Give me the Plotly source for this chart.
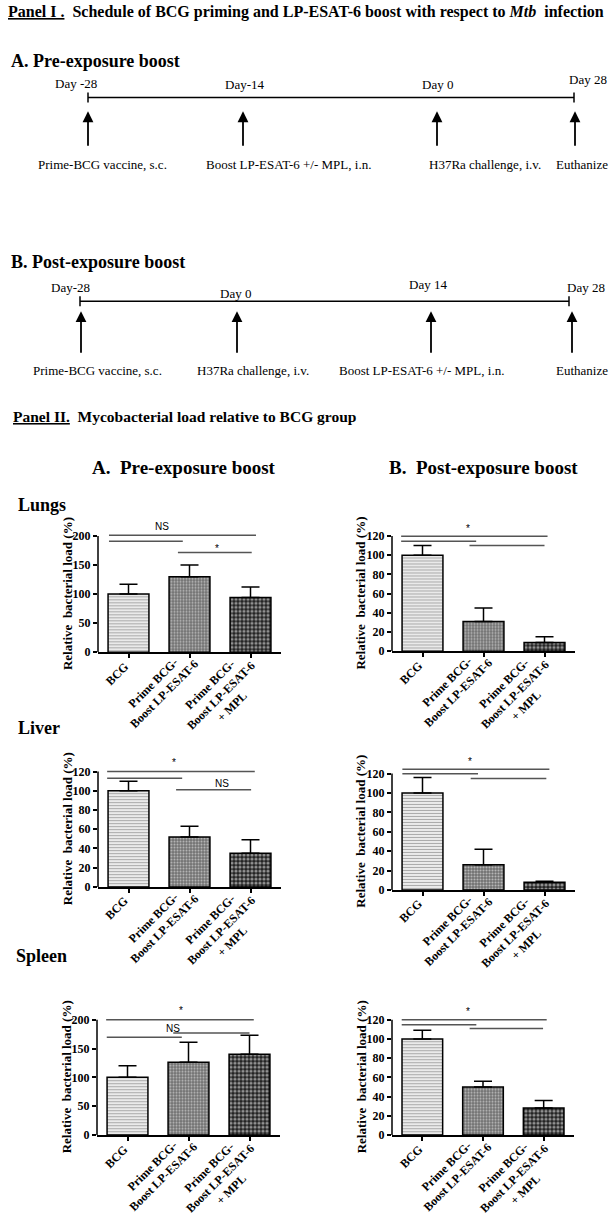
import plotly.graph_objects as go

W, H = 610, 1231
SERIF = "Liberation Serif, Times New Roman, serif"
SANS = "Liberation Sans, Arial, sans-serif"

# ---------------- data ----------------
groups = ["BCG", "Prime BCG-<br>Boost LP-ESAT-6", "Prime BCG-<br>Boost LP-ESAT-6<br>+ MPL"]
lungs_pre = [100, 130, 94]
lungs_pre_err = [17, 20, 18]
lungs_post = [100, 31, 9]
lungs_post_err = [10, 14, 6]
liver_pre = [100, 52, 35]
liver_pre_err = [10, 11, 14]
liver_post = [100, 26, 8]
liver_post_err = [16, 16, 1]
spleen_pre = [100, 126, 140]
spleen_pre_err = [20, 35, 33]
spleen_post = [100, 50, 28]
spleen_post_err = [9, 6, 8]
yticks_200 = [0, 50, 100, 150, 200]
yticks_120 = [0, 20, 40, 60, 80, 100, 120]

pre_days = ["Day -28", "Day-14", "Day 0", "Day 28"]
pre_events = ["Prime-BCG vaccine, s.c.", "Boost LP-ESAT-6 +/- MPL, i.n.",
              "H37Ra challenge, i.v.", "Euthanize"]
post_days = ["Day-28", "Day 0", "Day 14", "Day 28"]
post_events = ["Prime-BCG vaccine, s.c.", "H37Ra challenge, i.v.",
               "Boost LP-ESAT-6 +/- MPL, i.n.", "Euthanize"]

# significance brackets (category from, category to, level) and labels
lungs_pre_sig = [(-0.32, 2.09, 201), (-0.32, 0.89, 191), (0.81, 2.02, 171.5)]
lungs_pre_lab = [("NS", 0.55, 217), ("*", 1.45, 178)]
lungs_post_sig = [(-0.35, 2.05, 119.7), (-0.35, 0.88, 114.5), (0.77, 2.0, 110)]
lungs_post_lab = [("*", 0.75, 128)]
liver_pre_sig = [(-0.35, 2.07, 120), (-0.35, 0.88, 113), (0.78, 2.01, 101)]
liver_pre_lab = [("*", 0.75, 129), ("NS", 1.53, 108)]
liver_post_sig = [(-0.33, 2.08, 124.4), (-0.33, 0.91, 119.7), (0.79, 2.03, 115)]
liver_post_lab = [("*", 0.78, 132)]
spleen_pre_sig = [(-0.35, 2.07, 200), (0.75, 2.0, 177), (-0.34, 0.89, 169.6)]
spleen_pre_lab = [("NS", 0.75, 185), ("*", 0.88, 216)]
spleen_post_sig = [(-0.34, 2.05, 120), (-0.34, 0.89, 114.8), (0.78, 1.99, 110.7)]
spleen_post_lab = [("*", 0.76, 128.5)]

# ---------------- layout helpers ----------------
def px(x):
    return x / W

def py(y):
    return 1 - y / H

panels = [
    dict(v=lungs_pre, e=lungs_pre_err, t=yticks_200, box=(98, 281, 656, 539), sig=lungs_pre_sig, lab=lungs_pre_lab),
    dict(v=lungs_post, e=lungs_post_err, t=yticks_120, box=(392, 575, 655, 539), sig=lungs_post_sig, lab=lungs_post_lab),
    dict(v=liver_pre, e=liver_pre_err, t=yticks_120, box=(98, 281, 892, 776), sig=liver_pre_sig, lab=liver_pre_lab),
    dict(v=liver_post, e=liver_post_err, t=yticks_120, box=(392, 575, 895, 778), sig=liver_post_sig, lab=liver_post_lab),
    dict(v=spleen_pre, e=spleen_pre_err, t=yticks_200, box=(97, 280, 1141.5, 1025.5), sig=spleen_pre_sig, lab=spleen_pre_lab),
    dict(v=spleen_post, e=spleen_post_err, t=yticks_120, box=(392, 574, 1141.5, 1025.5), sig=spleen_post_sig, lab=spleen_post_lab),
]

# fill pattern of each group's bar
patterns = [
    dict(shape="-", fgcolor="#555555", bgcolor="white", size=3, solidity=0.5),
    dict(shape=".", fgcolor="white", bgcolor="#707070", size=3, solidity=0.4),
    dict(shape=".", fgcolor="white", bgcolor="#222222", size=4, solidity=0.5),
]

label_offsets = [(-11.5, 21.5), (-31, 37), (-29.5, 43.5)]

fig = go.Figure()
shapes = []
annotations = []
layout_axes = {}

for i, p in enumerate(panels, start=1):
    xa = "x" if i == 1 else f"x{i}"
    ya = "y" if i == 1 else f"y{i}"
    x0p, x1p, y0p, ytp = p["box"]
    top = p["t"][-1]
    R = top * 1.16
    ytop_dom = y0p - (y0p - ytp) * R / top
    for j in range(len(groups)):
        fig.add_trace(go.Bar(
            x=[j], y=[p["v"][j]], width=0.67, xaxis=xa, yaxis=ya,
            marker=dict(color="white", line=dict(color="black", width=1.5), pattern=patterns[j]),
            error_y=dict(type="data", symmetric=False, array=[p["e"][j]], arrayminus=[0],
                         color="black", thickness=1.5, width=9),
            showlegend=False, hoverinfo="skip",
        ))
    layout_axes["xaxis" if i == 1 else f"xaxis{i}"] = dict(
        domain=[px(x0p), px(x1p)], range=[-0.5, 2.5], anchor=ya,
        showline=True, linecolor="black", linewidth=1.5, ticks="outside",
        tickvals=[0, 1, 2], ticklen=4, tickwidth=1.5, tickcolor="black",
        showticklabels=False, showgrid=False, zeroline=False,
    )
    layout_axes["yaxis" if i == 1 else f"yaxis{i}"] = dict(
        domain=[py(y0p), py(ytop_dom)], range=[0, R], anchor=xa,
        showline=False, ticks="outside", tickvals=p["t"], ticklen=4, tickwidth=1.5,
        tickcolor="black", showgrid=False, zeroline=False,
        tickfont=dict(family=SERIF, size=12, color="black", weight="bold"),
    )
    # y axis line up to top tick
    shapes.append(dict(type="line", xref=f"{xa} domain", yref=ya, x0=0, x1=0, y0=0, y1=top,
                       line=dict(color="black", width=1.5)))
    # y title
    annotations.append(dict(text="Relative\u00a0 bacterial load (%)", xref=f"{xa} domain", yref=ya,
                            x=0, y=top / 2, xshift=-31, textangle=-90, showarrow=False,
                            xanchor="center", yanchor="middle",
                            font=dict(family=SERIF, size=13, color="black", weight="bold")))
    # category labels
    for j, g in enumerate(groups):
        dx, dy = label_offsets[j]
        annotations.append(dict(text=g, xref=xa, yref=ya, x=j, y=0, xshift=dx, yshift=-dy,
                                textangle=-45, showarrow=False, align="center",
                                xanchor="center", yanchor="middle",
                                font=dict(family=SERIF, size=12, color="black", weight="bold")))
    # brackets
    for (a, b, lvl) in p["sig"]:
        shapes.append(dict(type="line", xref=xa, yref=ya, x0=a, x1=b, y0=lvl, y1=lvl,
                           line=dict(color="#555555", width=1.5)))
    for (txt_, xx, yy) in p["lab"]:
        annotations.append(dict(text=txt_, xref=xa, yref=ya, x=xx, y=yy, showarrow=False,
                                xanchor="center", yanchor="middle",
                                font=dict(family=SANS, size=10, color="black")))

# ---------------- text headings ----------------
def txt(t, x, y, size, bold=False, anchor="left", family=SERIF):
    annotations.append(dict(text=t, xref="paper", yref="paper", x=px(x), y=py(y),
                            showarrow=False, xanchor=anchor, yanchor="middle",
                            font=dict(family=family, size=size, color="black",
                                      weight="bold" if bold else "normal")))

txt("<u>Panel I .</u>  Schedule of BCG priming and LP-ESAT-6 boost with respect to <i>Mtb</i>  infection",
    6, 12, 16, True)
txt("A. Pre-exposure boost", 9, 61, 18, True)
txt("B. Post-exposure boost", 9, 263, 18, True)
txt("<u>Panel II.</u>  Mycobacterial load relative to BCG group", 11, 419, 15.5, True)
txt("A.  Pre-exposure boost", 184, 470, 19, True, "center")
txt("B.  Post-exposure boost", 483, 470, 19, True, "center")
txt("Lungs", 16, 508, 18, True)
txt("Liver", 16, 732, 18, True)
txt("Spleen", 14, 961, 18, True)

# ---------------- timelines ----------------
def timeline(line_y, x_start, x_end, arrow_x, tip_y, tail_y, days, day_pos, events, ev_pos, ev_y):
    shapes.append(dict(type="line", xref="paper", yref="paper", x0=px(x_start), x1=px(x_end),
                       y0=py(line_y), y1=py(line_y), line=dict(color="black", width=1.5)))
    for xe in (x_start, x_end):
        shapes.append(dict(type="line", xref="paper", yref="paper", x0=px(xe), x1=px(xe),
                           y0=py(line_y - 5), y1=py(line_y + 5), line=dict(color="black", width=1.5)))
    for ax_ in arrow_x:
        annotations.append(dict(text="", xref="paper", yref="paper", x=px(ax_), y=py(tip_y),
                                ax=0, ay=tail_y - tip_y, showarrow=True, arrowhead=2,
                                arrowsize=1.2, arrowwidth=1.8, arrowcolor="black", standoff=0))
    for d, (dxp, dyp) in zip(days, day_pos):
        txt(d, dxp, dyp, 13, False, "center")
    for ev, exp in zip(events, ev_pos):
        txt(ev, exp, ev_y, 13, False, "center")

timeline(98, 88, 574, [88, 243, 437, 575], 112, 148,
         pre_days, [(76, 84), (244, 85), (437, 85), (588, 80)],
         pre_events, [102, 288, 485, 582], 165)
timeline(303, 80, 569, [81, 237, 431, 572], 313, 356,
         post_days, [(70, 289), (235, 295), (428, 286), (586, 289)],
         post_events, [97, 253, 422, 582], 373)

fig.update_layout(
    width=W, height=H, margin=dict(l=0, r=0, t=0, b=0), autosize=False,
    paper_bgcolor="white", plot_bgcolor="white", showlegend=False,
    shapes=shapes, annotations=annotations, **layout_axes,
)

fig.write_html(
    "out.html",
    config={"displayModeBar": False},
    post_script=("document.documentElement.style.margin='0';document.body.style.margin='0';"
                 "document.body.style.padding='0';document.body.style.overflow='hidden';"
                 "document.documentElement.style.overflow='hidden';"),
)
